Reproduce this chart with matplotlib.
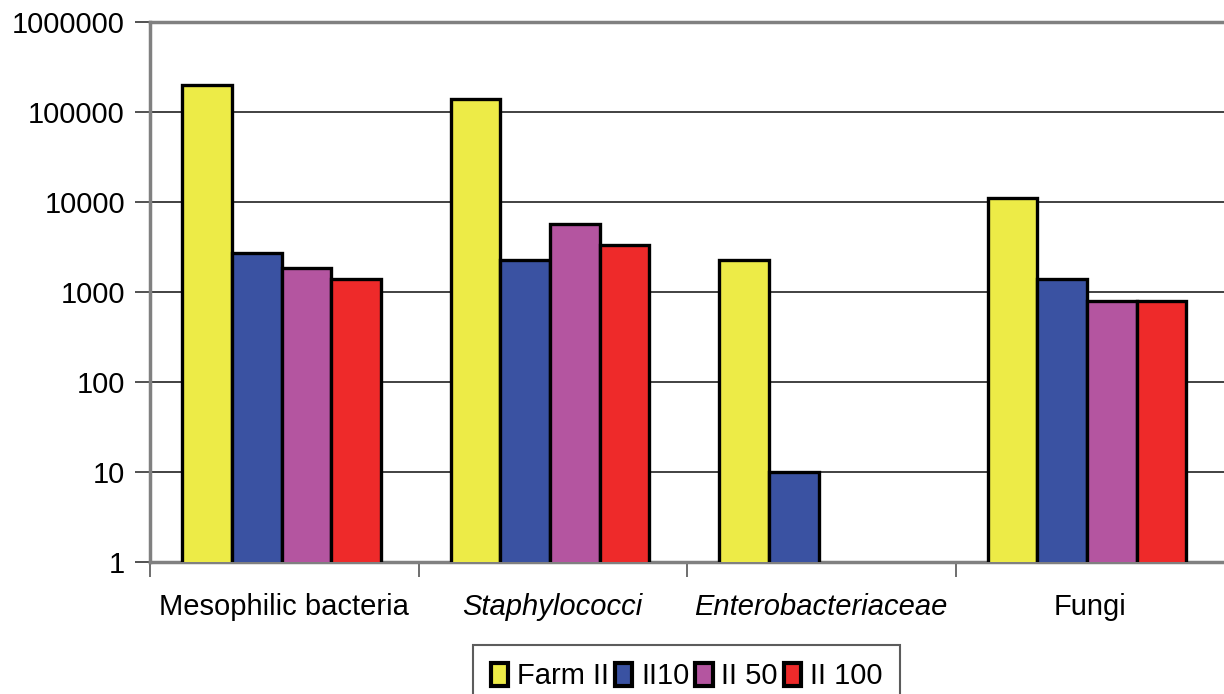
import matplotlib.pyplot as plt
import numpy as np
from matplotlib.ticker import FixedLocator, FuncFormatter, NullLocator

plt.rcParams['font.family'] = ['Liberation Sans', 'DejaVu Sans']

# donnees
categories = ["Mesophilic bacteria", "Staphylococci", "Enterobacteriaceae", "Fungi"]
italique = [False, True, True, False]
series = ["Farm II", "II10", "II 50", "II 100"]
farm_ii = [200000, 140000, 2250, 11000]
ii_10 = [2700, 2250, 10, 1400]
ii_50 = [1850, 5700, np.nan, 800]
ii_100 = [1400, 3300, np.nan, 800]
couleurs = ["#EDEB47", "#3A52A2", "#B455A0", "#EE2A2A"]

valeurs = [farm_ii, ii_10, ii_50, ii_100]

fig = plt.figure(figsize=(12.24, 6.94), dpi=100)
ax = fig.add_axes([150/1224, 132/694, 1074/1224, 540/694])

x = np.arange(len(categories))
w = 0.185
for i, (nom, vals, c) in enumerate(zip(series, valeurs, couleurs)):
    ax.bar(x - 0.01 + (i - 1.5) * w, vals, width=w, color=c, edgecolor="black",
           linewidth=2.4, label=nom, zorder=3)

ax.set_yscale("log")
ax.set_ylim(1, 1000000)
ax.set_xlim(-0.5, 3.5)
ax.yaxis.set_major_locator(FixedLocator([1, 10, 100, 1000, 10000, 100000, 1000000]))
ax.yaxis.set_minor_locator(NullLocator())
ax.yaxis.set_major_formatter(FuncFormatter(lambda v, p: "%d" % round(v)))
ax.tick_params(axis="y", labelsize=21, length=11, width=1.2, color="#333333", pad=7)
ax.grid(axis="y", color="#333333", linewidth=1.3, zorder=0)

ax.set_xticks(x)
ax.set_xticklabels(categories)
for lab, it in zip(ax.get_xticklabels(), italique):
    if it:
        lab.set_style("italic")
ax.set_xticks([-0.5, 0.5, 1.5, 2.5], minor=True)
ax.tick_params(axis="x", which="major", length=0, labelsize=21, pad=22)
ax.tick_params(axis="x", which="minor", length=11, width=1.2, color="#555555")

for s in ["left", "bottom", "top"]:
    ax.spines[s].set_color("#808080")
    ax.spines[s].set_linewidth(2.5)
ax.spines["right"].set_visible(False)

leg = fig.legend(loc="upper center", bbox_to_anchor=(0.561, 49/694), ncol=4,
                 fontsize=21, frameon=True, fancybox=False, edgecolor="#333333",
                 handlelength=0.6, handleheight=0.8, handletextpad=0.3,
                 columnspacing=0.2, borderpad=0.6, borderaxespad=0)
leg.get_frame().set_linewidth(1.5)
for h in leg.legend_handles:
    h.set_linewidth(3)

plt.savefig("out.png", dpi=100)
